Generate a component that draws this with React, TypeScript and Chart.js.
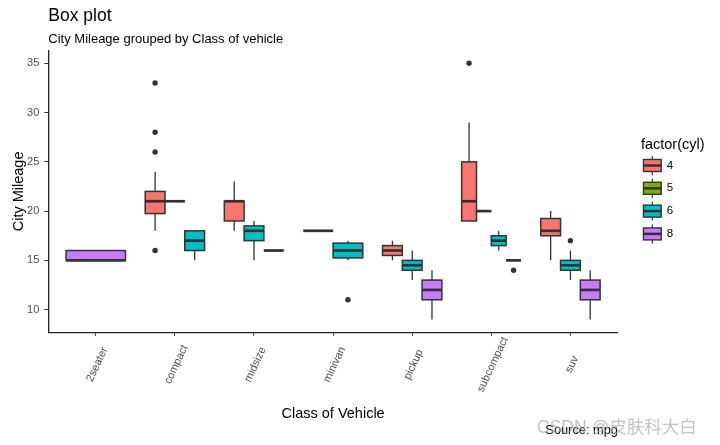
import React, { useEffect, useRef } from "react";
import { Chart, registerables } from "chart.js";

Chart.register(...registerables);

const FONT = "'Liberation Sans', Arial, Helvetica, sans-serif";

// ---- data ----
const classes = ["2seater", "compact", "midsize", "minivan", "pickup", "subcompact", "suv"];
const cylLevels = ["4", "5", "6", "8"];
const cylColors = ["#F8766D", "#7CAE00", "#00BFC4", "#C77CFF"];

// [lower whisker, Q1, median, Q3, upper whisker] per class (null = no cars of that cyl)
const cyl4Stats = [null, [18, 19.75, 21, 22, 24], [18, 19, 21, 21, 23], [18, 18, 18, 18, 18], [15, 15.5, 16, 16.5, 17], [19, 19, 21, 25, 29], [15, 17.5, 18, 19.25, 20]];
const cyl5Stats = [null, [21, 21, 21, 21, 21], null, null, null, [20, 20, 20, 20, 20], null];
const cyl6Stats = [null, [15, 16, 17, 18, 18], [15, 17, 18, 18.5, 19], [15, 15.25, 16, 16.75, 17], [13, 14, 14.5, 15, 16], [16, 16.5, 17, 17.5, 18], [13, 14, 14.5, 15, 16]];
const cyl8Stats = [[15, 15, 15, 16, 16], null, [16, 16, 16, 16, 16], null, [9, 11, 12, 13, 14], [15, 15, 15, 15, 15], [9, 11, 12, 13, 14]];

const cyl4Outliers = [[], [33, 28, 26, 16], [], [], [], [35], []];
const cyl5Outliers = [[], [], [], [], [], [], []];
const cyl6Outliers = [[], [], [], [11], [], [], [17]];
const cyl8Outliers = [[], [], [], [], [], [14], []];

const yTicks = [10, 15, 20, 25, 30, 35];

const statsByCyl = [cyl4Stats, cyl5Stats, cyl6Stats, cyl8Stats];
const outliersByCyl = [cyl4Outliers, cyl5Outliers, cyl6Outliers, cyl8Outliers];

const DODGE_WIDTH = 0.75;

function slotFor(ci: number, cylIdx: number) {
  const present = statsByCyl.map((s, k) => (s[ci] ? k : -1)).filter((k) => k >= 0);
  const n = present.length;
  const k = present.indexOf(cylIdx);
  const w = DODGE_WIDTH / n;
  const x0 = ci + 1 - DODGE_WIDTH / 2 + w * k;
  return { x0, x1: x0 + w, xc: x0 + w / 2 };
}

const boxPlugin = {
  id: "boxplot",
  beforeDatasetsDraw(chart: any) {
    const { ctx, scales } = chart;
    const x = scales.x;
    const y = scales.y;
    ctx.save();
    statsByCyl.forEach((stats, k) => {
      stats.forEach((s: number[] | null, ci: number) => {
        if (!s) return;
        const { x0, x1, xc } = slotFor(ci, k);
        const px0 = x.getPixelForValue(x0);
        const px1 = x.getPixelForValue(x1);
        const pxc = x.getPixelForValue(xc);
        const [lo, q1, med, q3, hi] = s.map((v) => y.getPixelForValue(v));
        ctx.strokeStyle = "#333333";
        ctx.lineWidth = 1.3;
        ctx.beginPath();
        ctx.moveTo(pxc, q3);
        ctx.lineTo(pxc, hi);
        ctx.moveTo(pxc, q1);
        ctx.lineTo(pxc, lo);
        ctx.stroke();
        ctx.fillStyle = cylColors[k];
        ctx.fillRect(px0, q3, px1 - px0, q1 - q3);
        ctx.lineWidth = 1.5;
        ctx.strokeRect(px0, q3, px1 - px0, q1 - q3);
        ctx.lineWidth = 2.7;
        ctx.beginPath();
        ctx.moveTo(px0, med);
        ctx.lineTo(px1, med);
        ctx.stroke();
      });
    });
    ctx.restore();
  },
  afterDraw(chart: any) {
    const { ctx, scales, chartArea } = chart;
    const x = scales.x;
    ctx.save();
    // rotated category labels, centred below each tick
    ctx.fillStyle = "#4D4D4D";
    ctx.font = `11px ${FONT}`;
    ctx.textAlign = "center";
    ctx.textBaseline = "middle";
    classes.forEach((c, i) => {
      const px = x.getPixelForValue(i + 1) + 1.5;
      ctx.save();
      ctx.translate(px, chartArea.bottom + 32.2);
      ctx.rotate((-65 * Math.PI) / 180);
      ctx.fillText(c, 0, 0);
      ctx.restore();
    });

    // legend
    const lx = chartArea.right + 23;
    ctx.fillStyle = "#000000";
    ctx.textAlign = "left";
    ctx.textBaseline = "alphabetic";
    ctx.font = `14.5px ${FONT}`;
    ctx.fillText("factor(cyl)", lx, 148.5);
    cylLevels.forEach((lab, k) => {
      const cy = 165.5 + k * 22.8;
      const bx = lx + 2.6;
      const bw = 17.7;
      const bh = 12;
      const cx = bx + bw / 2;
      ctx.strokeStyle = "#333333";
      ctx.lineWidth = 1.2;
      ctx.beginPath();
      ctx.moveTo(cx, cy - 9.5);
      ctx.lineTo(cx, cy - bh / 2);
      ctx.moveTo(cx, cy + bh / 2);
      ctx.lineTo(cx, cy + 9.5);
      ctx.stroke();
      ctx.fillStyle = cylColors[k];
      ctx.fillRect(bx, cy - bh / 2, bw, bh);
      ctx.lineWidth = 1.4;
      ctx.strokeRect(bx, cy - bh / 2, bw, bh);
      ctx.lineWidth = 2.5;
      ctx.beginPath();
      ctx.moveTo(bx, cy);
      ctx.lineTo(bx + bw, cy);
      ctx.stroke();
      ctx.fillStyle = "#000000";
      ctx.font = `11.5px ${FONT}`;
      ctx.textBaseline = "middle";
      ctx.fillText(lab, bx + bw + 5.5, cy);
      ctx.textBaseline = "alphabetic";
    });

    // caption
    ctx.fillStyle = "#000000";
    ctx.font = `12.8px ${FONT}`;
    ctx.textAlign = "right";
    ctx.fillText("Source: mpg", chartArea.right, 434);

    // watermark
    ctx.textAlign = "left";
    ctx.font = `17.5px 'Liberation Sans', 'Noto Sans CJK SC', sans-serif`;
    ctx.fillStyle = "rgba(170,170,170,0.7)";
    ctx.fillText("CSDN @皮肤科大白", 537, 433);
    ctx.restore();
  },
};

export default function App() {
  const ref = useRef<HTMLCanvasElement | null>(null);

  useEffect(() => {
    document.body.style.margin = "0";
    const canvas = ref.current;
    if (!canvas) return;

    const datasets = outliersByCyl.map((outs, k) => ({
      label: cylLevels[k],
      data: outs.flatMap((vals, ci) =>
        vals.map((v) => ({ x: slotFor(ci, k).xc, y: v }))
      ),
      pointRadius: 2.7,
      pointHoverRadius: 2.7,
      pointBackgroundColor: "#333333",
      pointBorderWidth: 0,
      borderWidth: 0,
    }));

    const chart = new Chart(canvas, {
      type: "scatter",
      data: { datasets },
      plugins: [boxPlugin],
      options: {
        animation: false,
        responsive: false,
        events: [],
        layout: { padding: { left: 0, top: 0, right: 102.1, bottom: 0 } },
        plugins: {
          legend: { display: false },
          tooltip: { enabled: false },
          title: {
            display: true,
            text: "Box plot",
            align: "start",
            fullSize: false,
            color: "#000000",
            font: { family: FONT, size: 17.5, weight: "normal" },
            padding: { top: 5.9, bottom: 0 },
          },
          subtitle: {
            display: true,
            text: "City Mileage grouped by Class of vehicle",
            align: "start",
            fullSize: false,
            color: "#000000",
            font: { family: FONT, size: 13, weight: "normal" },
            padding: { top: 4.8, bottom: 3.2 },
          },
        },
        scales: {
          x: {
            type: "linear",
            min: 0.4,
            max: 7.6,
            afterBuildTicks: (scale: any) => {
              scale.ticks = classes.map((_, i) => ({ value: i + 1 }));
            },
            afterFit: (scale: any) => {
              scale.height = 112.7;
            },
            grid: { display: true, drawOnChartArea: false, drawTicks: true, tickLength: 3.5, color: "#333333", lineWidth: 1 },
            border: { display: true, color: "#222222", width: 1.3 },
            ticks: { display: false, autoSkip: false },
            title: {
              display: true,
              text: "Class of Vehicle",
              color: "#000000",
              font: { family: FONT, size: 14.5 },
              padding: { top: 0, bottom: 22.8 },
            },
          },
          y: {
            type: "linear",
            min: 7.7,
            max: 36.3,
            afterBuildTicks: (scale: any) => {
              scale.ticks = yTicks.map((v) => ({ value: v }));
            },
            afterFit: (scale: any) => {
              scale.width = 48.3;
            },
            grid: { display: true, drawOnChartArea: false, drawTicks: true, tickLength: 4, color: "#333333", lineWidth: 1 },
            border: { display: true, color: "#222222", width: 1.3 },
            ticks: {
              color: "#4D4D4D",
              font: { family: FONT, size: 11 },
              padding: 5,
              autoSkip: false,
              callback: (v: any) => String(v),
            },
            title: {
              display: true,
              text: "City Mileage",
              color: "#000000",
              font: { family: FONT, size: 14.5 },
              padding: { top: 10.7, bottom: 0 },
            },
          },
        },
      } as any,
    });

    return () => chart.destroy();
  }, []);

  return (
    <div style={{ position: "absolute", left: 0, top: 0, width: 720, height: 445, background: "#ffffff" }}>
      <canvas ref={ref} width={720} height={445} style={{ display: "block" }} />
    </div>
  );
}
